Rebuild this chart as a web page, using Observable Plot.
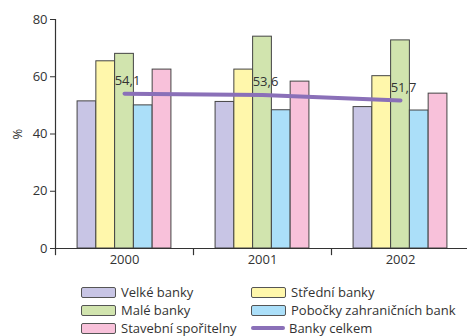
<!DOCTYPE html>
<html><head><meta charset="utf-8">
<script src="https://cdn.jsdelivr.net/npm/d3@7"></script>
<script src="https://cdn.jsdelivr.net/npm/@observablehq/plot@0.6"></script>
<style>
body{margin:0;background:#fff;font-family:"Open Sans",sans-serif;color:#333;overflow:hidden;}
#legend{display:grid;grid-template-columns:170px 210px;padding-left:81px;font-size:13px;}
.item{display:flex;align-items:center;height:18px;white-space:nowrap;}
.sw{width:33px;height:9px;border:1px solid #555;border-radius:2px;margin-right:5px;box-sizing:content-box;flex:none;}
.ln{width:34px;height:4px;background:#8a70b8;margin-right:4px;border-radius:2px;flex:none;}
</style></head>
<body>
<div id="chart"></div>
<div id="legend"></div>
<script>
const years = [2000, 2001, 2002];
const series = ["Velké banky", "Střední banky", "Malé banky", "Pobočky zahraničních bank", "Stavební spořitelny"];
const colors = ["#c8c5e5", "#fff7ab", "#d1e4ae", "#abdff9", "#f8c1da"];
const velke = [51.4, 51.2, 49.4];
const stredni = [65.4, 62.5, 60.2];
const male = [68.0, 74.0, 72.7];
const pobocky = [50.0, 48.3, 48.2];
const stavebni = [62.5, 58.3, 54.1];
const celkem = [54.1, 53.6, 51.7];
const lineName = "Banky celkem";
const lineColor = "#8a70b8";

const values = [velke, stredni, male, pobocky, stavebni];
const rows = [];
series.forEach((s, i) => years.forEach((y, j) => rows.push({series: s, idx: i, year: y, value: values[i][j]})));
const total = years.map((y, j) => ({year: y, value: celkem[j]}));

const pad = 0.16, bw = (1 - 2 * pad) / series.length;
const fmt = v => v.toFixed(1).replace(".", ",");

const plot = Plot.plot({
  width: 467, height: 283,
  marginLeft: 55, marginRight: 0, marginTop: 19, marginBottom: 35,
  style: {fontFamily: "Open Sans, sans-serif", fontSize: "13px", color: "#333"},
  x: {type: "linear", domain: [years[0] - 0.5, years[years.length - 1] + 0.5], range: [55, 469]},
  y: {domain: [0, 80]},
  color: {domain: series, range: colors},
  marks: [
    Plot.rectY(rows, {
      x1: d => d.year - 0.5 + pad + d.idx * bw,
      x2: d => d.year - 0.5 + pad + (d.idx + 1) * bw,
      y1: 0, y2: "value", fill: "series", stroke: "#444", strokeWidth: 1
    }),
    Plot.ruleY([0], {stroke: "#333", strokeWidth: 1.2}),
    Plot.ruleX([years[0] - 0.5], {stroke: "#333", strokeWidth: 1.2}),
    Plot.ruleX(years.map(y => y - 0.5), {y1: 0, y2: -2.5, stroke: "#333", strokeWidth: 1.2}),
    Plot.axisY({ticks: [0, 20, 40, 60, 80], tickSize: 5, tickPadding: 3, label: "%", labelAnchor: "center", labelArrow: "none", labelOffset: 43, fontSize: 13}),
    Plot.axisX({ticks: years, tickFormat: d => String(d), tickSize: 0, tickPadding: 6, label: null, fontSize: 13}),
    Plot.line(total, {x: "year", y: "value", stroke: lineColor, strokeWidth: 4}),
    Plot.text(total, {x: "year", y: "value", text: d => fmt(d.value), dx: 3, dy: -13, fontSize: 13, fill: "#333"})
  ]
});
document.getElementById("chart").appendChild(plot);

const leg = document.getElementById("legend");
series.forEach((s, i) => {
  const it = document.createElement("div"); it.className = "item";
  const sw = document.createElement("span"); sw.className = "sw"; sw.style.background = colors[i];
  it.appendChild(sw); it.appendChild(document.createTextNode(s)); leg.appendChild(it);
});
const it = document.createElement("div"); it.className = "item";
const ln = document.createElement("span"); ln.className = "ln";
it.appendChild(ln); it.appendChild(document.createTextNode(lineName)); leg.appendChild(it);
</script>
</body></html>
